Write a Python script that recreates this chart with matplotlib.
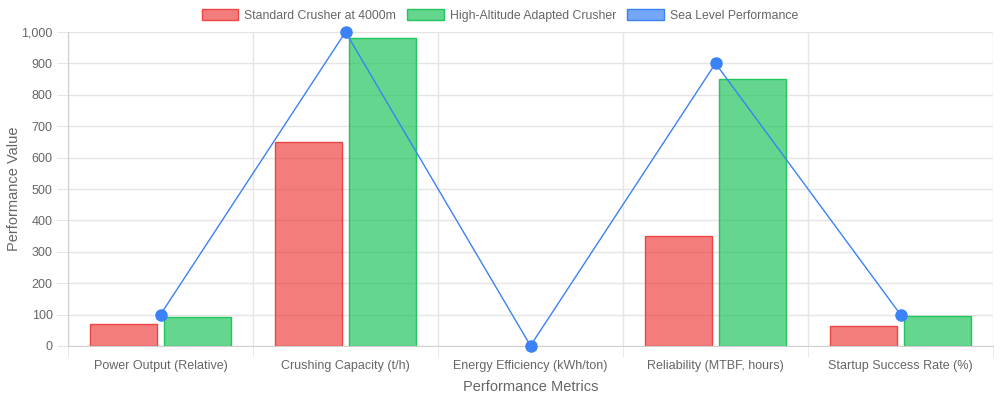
import matplotlib
matplotlib.use("Agg")
import matplotlib.pyplot as plt
from matplotlib.patches import Patch
from matplotlib.ticker import FuncFormatter, FixedLocator
import numpy as np

categories = ["Power Output (Relative)", "Crushing Capacity (t/h)", "Energy Efficiency (kWh/ton)",
              "Reliability (MTBF, hours)", "Startup Success Rate (%)"]
standard = [70, 650, 1.5, 350, 65]
adapted = [92, 980, 1.1, 850, 96]
sea_level = [100, 1000, 1, 900, 100]
series_names = ["Standard Crusher at 4000m", "High-Altitude Adapted Crusher", "Sea Level Performance"]

plt.rcParams['font.family'] = ['Liberation Sans', 'DejaVu Sans']
TXT = '#666666'
GRID = '#e5e5e5'

fig = plt.figure(figsize=(10, 4), dpi=100)
ax = fig.add_axes([0.068, 0.135, 0.925, 0.785])

x = np.arange(len(categories))
bw = 0.8 / 2 * 0.9
red_f = (239/255, 68/255, 68/255, 0.7)
red_e = (239/255, 68/255, 68/255, 1)
grn_f = (34/255, 197/255, 94/255, 0.7)
grn_e = (34/255, 197/255, 94/255, 1)
blue = '#3b82f6'

def edges(vals, c):
    return [c if v >= 10 else (0, 0, 0, 0) for v in vals]

ax.bar(x - 0.2, standard, bw, color=red_f, edgecolor=edges(standard, red_e), linewidth=1, zorder=2)
ax.bar(x + 0.2, adapted, bw, color=grn_f, edgecolor=edges(adapted, grn_e), linewidth=1, zorder=2)
ax.plot(x, sea_level, color=blue, linewidth=1, marker='o', markersize=8,
        markerfacecolor=blue, markeredgecolor=blue, zorder=4, clip_on=False)

ax.set_xlim(-0.5, len(categories) - 0.5)
ax.set_ylim(0, 1000)
ax.set_yticks(np.arange(0, 1001, 100))
ax.yaxis.set_major_formatter(FuncFormatter(lambda v, p: f"{int(v):,}"))
ax.set_xticks(x)
ax.set_xticklabels(categories)
ax.xaxis.set_minor_locator(FixedLocator(np.arange(-0.5, len(categories), 1)))
ax.grid(axis='y', color=GRID, linewidth=1, zorder=0)
ax.grid(axis='x', which='minor', color=GRID, linewidth=1, zorder=0)
ax.tick_params(axis='x', which='major', length=0, pad=10, labelsize=9, labelcolor=TXT)
ax.tick_params(axis='x', which='minor', length=8, color=GRID)
ax.tick_params(axis='y', length=8, color=GRID, labelsize=9, labelcolor=TXT, pad=3)
for s in ['top', 'right']:
    ax.spines[s].set_visible(False)
for s in ['left', 'bottom']:
    ax.spines[s].set_color('#d0d0d0')
ax.set_axisbelow(True)

ax.set_xlabel("Performance Metrics", fontsize=10.5, color=TXT, labelpad=6)
ax.set_ylabel("Performance Value", fontsize=10.5, color=TXT)
ax.yaxis.set_label_coords(-0.051, 0.5)

handles = [Patch(facecolor=red_f, edgecolor=red_e, linewidth=1),
           Patch(facecolor=grn_f, edgecolor=grn_e, linewidth=1),
           Patch(facecolor=(59/255, 130/255, 246/255, 0.7), edgecolor=blue, linewidth=1)]
leg = fig.legend(handles, series_names, loc='center', bbox_to_anchor=(0.5, 0.962), ncol=3,
                 frameon=False, fontsize=8.8, handlelength=3.0, handleheight=1.0,
                 columnspacing=0.9, handletextpad=0.5)
for t in leg.get_texts():
    t.set_color(TXT)

fig.savefig("out.png", dpi=100)
